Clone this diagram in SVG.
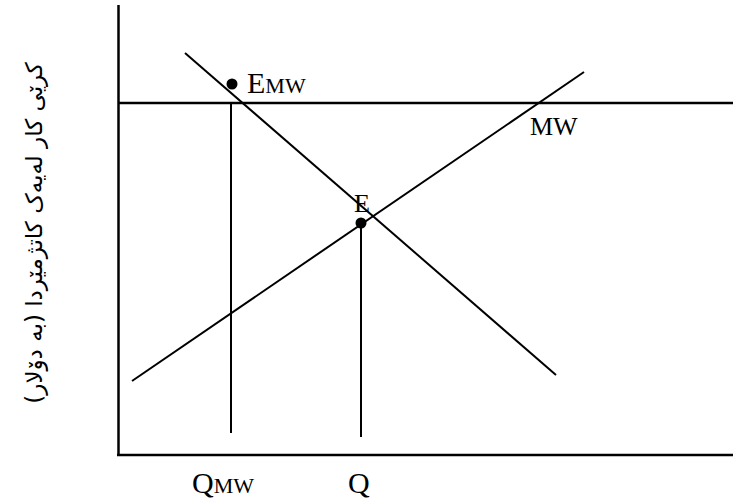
<svg xmlns="http://www.w3.org/2000/svg" width="733" height="504" viewBox="0 0 733 504">
<style>
.ln{stroke:#000;stroke-width:2;fill:none}
.ax{stroke:#000;stroke-width:2.5;fill:none}
.t{font-family:"Liberation Serif","Times New Roman",serif;fill:#000}
</style>
<rect width="733" height="504" fill="#fff"/>
<g id="connectors">
<line class="ax" x1="118.5" y1="5" x2="118.5" y2="456"/>
<line class="ax" x1="117" y1="455" x2="733" y2="455"/>
<line class="ax" x1="118" y1="103" x2="733" y2="103"/>
<line class="ln" x1="185" y1="53" x2="556" y2="375"/>
<line class="ln" x1="132" y1="381" x2="584" y2="72"/>
<line class="ln" x1="231" y1="103" x2="231" y2="433"/>
<line class="ln" x1="361" y1="222" x2="361" y2="437"/>
</g>
<g id="EMW">
<circle cx="232" cy="84" r="5.5" fill="#000"/>
<text class="t" x="247" y="93" font-size="30">E<tspan font-size="22">MW</tspan></text>
</g>
<g id="E">
<circle cx="361" cy="223" r="5.5" fill="#000"/>
<text class="t" x="354" y="212" font-size="26">E</text>
</g>
<g id="MW">
<text class="t" x="530" y="135" font-size="26">MW</text>
</g>
<g id="QMW">
<text class="t" x="192" y="493" font-size="30">Q<tspan font-size="22">MW</tspan></text>
</g>
<g id="Q">
<text class="t" x="348" y="493" font-size="30">Q</text>
</g>
<g id="ylabel">
<text x="0" y="0" transform="translate(42,233) rotate(-90)" text-anchor="middle" direction="rtl" font-family="'DejaVu Sans',sans-serif" font-size="23" fill="#000">کرێی کار لەیەک کاتژمێردا (بە دۆلار)</text>
</g>
</svg>
